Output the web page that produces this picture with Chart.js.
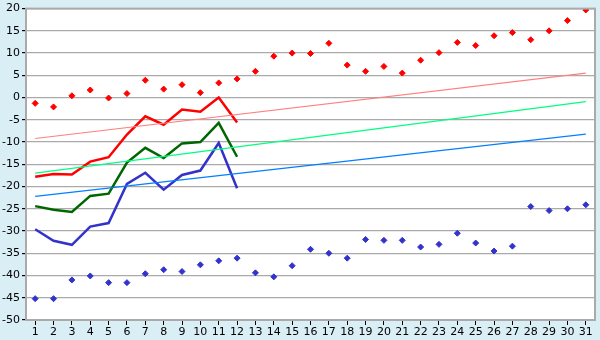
<!DOCTYPE html>
<html>
<head>
<meta charset="utf-8">
<script src="https://cdn.jsdelivr.net/npm/chart.js@4/dist/chart.umd.min.js"></script>
<style>
  html, body { margin: 0; padding: 0; background: #daeef5; }
  #wrap { width: 600px; height: 340px; }
</style>
</head>
<body>
<div id="wrap"><canvas id="grafico"></canvas></div>
<script>
// dados
const dias = [];
for (let d = 1; d <= 31; d++) dias.push(String(d));

const maxPontos = [-1.3, -2.1, 0.4, 1.7, -0.1, 0.9, 3.9, 1.9, 2.9, 1.1, 3.3, 4.2, 5.9, 9.3, 10.0,
  9.9, 12.2, 7.3, 5.9, 7.0, 5.5, 8.4, 10.1, 12.4, 11.7, 13.9, 14.6, 13.0, 15.0, 17.3, 19.7];
const minPontos = [-45.2, -45.2, -41.0, -40.1, -41.6, -41.6, -39.6, -38.7, -39.1, -37.6, -36.7, -36.1, -39.4, -40.3, -37.8,
  -34.1, -35.0, -36.1, -31.9, -32.1, -32.1, -33.6, -33.0, -30.5, -32.7, -34.5, -33.4, -24.5, -25.4, -25.0, -24.1];
const linhaVermelha = [-17.8, -17.2, -17.3, -14.4, -13.4, -8.3, -4.2, -6.1, -2.7, -3.2, 0.0, -5.6];
const linhaVerde = [-24.4, -25.2, -25.7, -22.1, -21.6, -14.6, -11.3, -13.6, -10.3, -10.0, -5.7, -13.3];
const linhaAzul = [-29.6, -32.2, -33.1, -29.0, -28.2, -19.4, -16.9, -20.7, -17.4, -16.4, -10.2, -20.4];

// tendências: valor no dia 1 e no dia 31
const tendVermelha = [-9.2, 5.5];
const tendVerde = [-17.0, -0.9];
const tendAzul = [-22.2, -8.2];

function pontas(par) {
  const arr = new Array(dias.length).fill(null);
  arr[0] = par[0];
  arr[dias.length - 1] = par[1];
  return arr;
}

const fundo = {
  id: 'fundo',
  beforeDraw(chart) {
    const { ctx, chartArea: a } = chart;
    ctx.save();
    ctx.fillStyle = '#daeef5';
    ctx.fillRect(0, 0, chart.width, chart.height);
    ctx.fillStyle = '#ffffff';
    ctx.fillRect(a.left, a.top, a.right - a.left, a.bottom - a.top);
    ctx.restore();
  },
  afterDraw(chart) {
    const { ctx, chartArea: a } = chart;
    ctx.save();
    ctx.strokeStyle = '#aaaaaa';
    ctx.lineWidth = 2;
    ctx.strokeRect(a.left, a.top, a.right - a.left, a.bottom - a.top);
    ctx.restore();
  }
};

function tendencia(dados, cor) {
  return {
    data: pontas(dados), borderColor: cor, borderWidth: 1.2,
    pointRadius: 0, spanGaps: true, tension: 0
  };
}
function linha(dados, cor) {
  return {
    data: dados, borderColor: cor, borderWidth: 2.5,
    pointRadius: 0, tension: 0
  };
}
function pontos(dados, cor) {
  return {
    data: dados, showLine: false, borderColor: cor, backgroundColor: cor,
    pointStyle: 'rectRot', pointRadius: 3, borderWidth: 1
  };
}

new Chart(document.getElementById('grafico'), {
  type: 'line',
  data: {
    labels: dias,
    datasets: [
      tendencia(tendVermelha, '#ff8080'),
      tendencia(tendVerde, '#00ff80'),
      tendencia(tendAzul, '#0080ff'),
      linha(linhaVermelha, '#ff0000'),
      linha(linhaVerde, '#006600'),
      linha(linhaAzul, '#3333cc'),
      pontos(maxPontos, '#ff0000'),
      pontos(minPontos, '#3333cc')
    ]
  },
  options: {
    responsive: true,
    maintainAspectRatio: false,
    animation: false,
    layout: { padding: { top: 3, right: 5, left: 0, bottom: 0 } },
    plugins: { legend: { display: false }, tooltip: { enabled: false } },
    scales: {
      x: {
        offset: true,
        grid: { offset: false, drawOnChartArea: false, color: '#000000', tickLength: 5 },
        border: { display: false },
        ticks: { color: '#000000', font: { family: 'DejaVu Sans', size: 11 }, padding: 1, maxRotation: 0, autoSkip: false },
        afterFit(s) { s.height = 20; }
      },
      y: {
        min: -50, max: 20,
        grid: { color: '#aaaaaa', lineWidth: 1.2, tickLength: 4, tickColor: '#000000' },
        border: { display: false },
        ticks: { stepSize: 5, color: '#000000', font: { family: 'DejaVu Sans', size: 11 }, padding: 2 },
        afterFit(s) { s.width = 26; }
      }
    }
  },
  plugins: [fundo]
});
</script>
</body>
</html>
